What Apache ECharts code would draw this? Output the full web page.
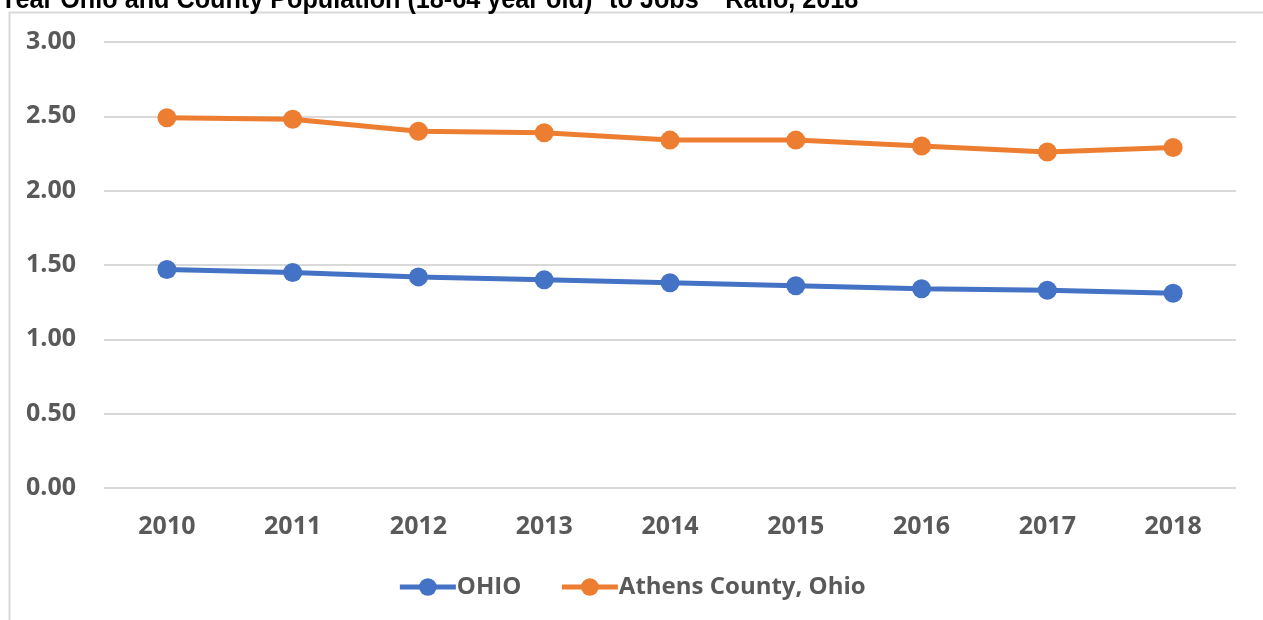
<!DOCTYPE html>
<html>
<head>
<meta charset="utf-8">
<script src="https://cdn.jsdelivr.net/npm/echarts@6/dist/echarts.min.js"></script>
<style>
  html, body { margin: 0; padding: 0; background: #fff; }
  #chart { width: 1263px; height: 620px; }
</style>
</head>
<body>
<div id="chart"></div>
<script>
const years = ['2010', '2011', '2012', '2013', '2014', '2015', '2016', '2017', '2018'];
const ohio = [1.47, 1.45, 1.42, 1.40, 1.38, 1.36, 1.34, 1.33, 1.31];
const athens = [2.49, 2.48, 2.40, 2.39, 2.34, 2.34, 2.30, 2.26, 2.29];
const yTicks = [0, 0.5, 1, 1.5, 2, 2.5, 3];
const titleText = 'Year Ohio and County Population (18-64 year old)* to Jobs** Ratio, 2018';

const labelFont = {fontFamily: 'Open Sans', fontWeight: 'bold', fontSize: 25, color: '#595959'};

let chart = echarts.init(document.getElementById('chart'));
let options = {
  animation: false,
  graphic: [
    {
      type: 'rect', left: 7, top: 10, z: -1,
      shape: {width: 1280, height: 640},
      style: {fill: 'none', stroke: '#d9d9d9', lineWidth: 2}
    },
    {
      // condensed bold title, clipped by the top of the page
      type: 'text', x: 0, y: -14, scaleX: 0.9,
      style: {text: titleText, font: 'bold 28px "Liberation Sans"', fill: '#000', textVerticalAlign: 'top'}
    }
  ],
  grid: {left: 104, right: 27, top: 42, bottom: 132},
  legend: {
    bottom: 16, left: 'center',
    itemWidth: 56, itemHeight: 22, itemGap: 38,
    lineStyle: {width: 5},
    textStyle: Object.assign({}, labelFont, {fontSize: 24, padding: [0, 0, 0, -4]})
  },
  xAxis: {
    type: 'category', data: years, boundaryGap: true,
    axisLine: {show: false}, axisTick: {show: false},
    axisLabel: Object.assign({margin: 26}, labelFont)
  },
  yAxis: {
    type: 'value', min: 0, max: 3, interval: 0.5,
    axisLabel: Object.assign({margin: 28, formatter: v => yTicks.includes(v) ? v.toFixed(2) : ''}, labelFont),
    splitLine: {lineStyle: {color: '#d9d9d9', width: 2}}
  },
  series: [
    {name: 'OHIO', type: 'line', data: ohio, symbol: 'circle', symbolSize: 19,
     color: '#4472c4', lineStyle: {width: 5}},
    {name: 'Athens County, Ohio', type: 'line', data: athens, symbol: 'circle', symbolSize: 19,
     color: '#ed7d31', lineStyle: {width: 5}}
  ]
};
chart.setOption(options);
</script>
</body>
</html>
